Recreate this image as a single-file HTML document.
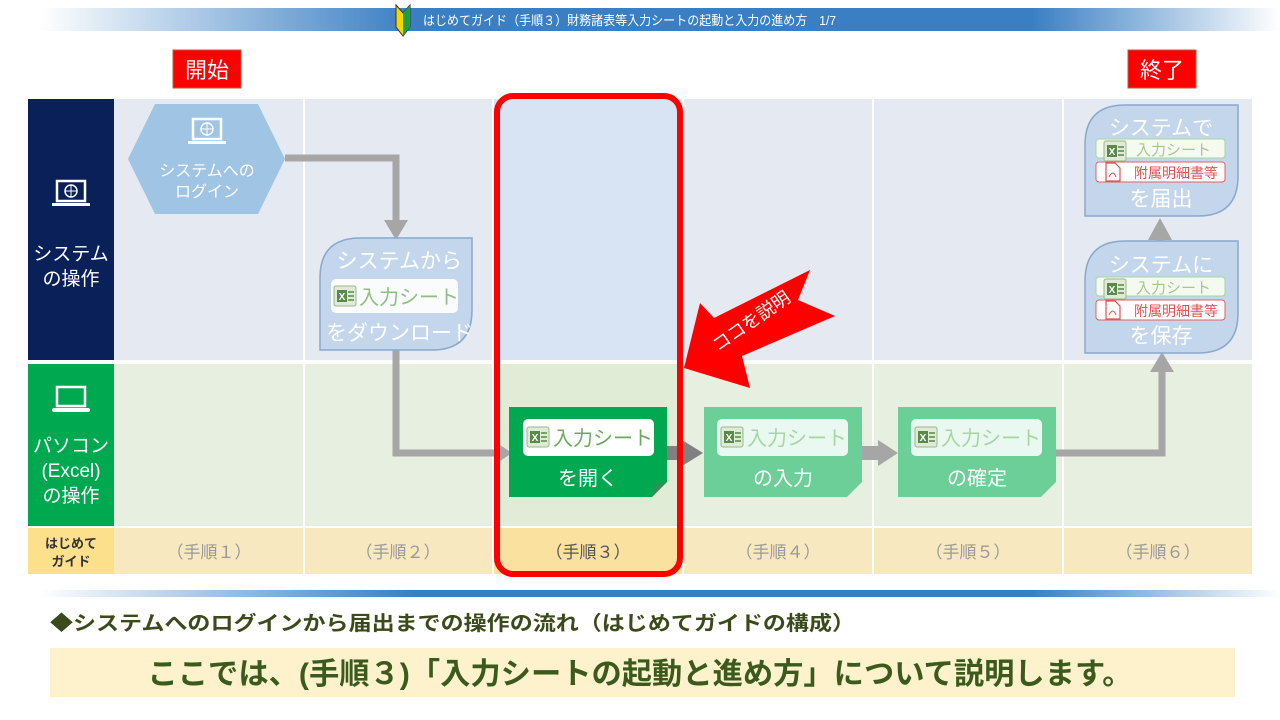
<!DOCTYPE html>
<html><head><meta charset="utf-8"><style>
html,body{margin:0;padding:0;background:#fff;}
svg{display:block;font-family:"Liberation Sans","Noto Sans CJK JP",sans-serif;}
</style></head><body>
<svg width="1280" height="720" viewBox="0 0 1280 720" xmlns="http://www.w3.org/2000/svg">
<defs>
<linearGradient id="bar" x1="0" x2="1" y1="0" y2="0">
<stop offset="0" stop-color="#fff"/><stop offset="0.3" stop-color="#3a7fc4"/><stop offset="0.8" stop-color="#3a7fc4"/><stop offset="1" stop-color="#fff"/>
</linearGradient>
<g id="xl"><rect x="0" y="0" width="22" height="20" rx="2" fill="#e0ead8" stroke="#9ab88a"/><rect x="3" y="4" width="10" height="12" fill="#5a8a4a"/><text x="8" y="14" font-size="10" font-weight="bold" fill="#fff" text-anchor="middle">X</text><rect x="14" y="5" width="6" height="2" fill="#7aa06a"/><rect x="14" y="9" width="6" height="2" fill="#7aa06a"/><rect x="14" y="13" width="6" height="2" fill="#7aa06a"/></g>
<g id="pdf"><path d="M0 0 h9 l5 5 v13 h-14z" fill="#fff" stroke="#e05050" stroke-width="1.2"/><path d="M3 14 q4 -8 7 0" fill="none" stroke="#e05050"/></g>
<g id="lap"><rect x="-14" y="-14" width="28" height="20" fill="none" stroke="#fff" stroke-width="2.5"/><rect x="-19" y="8" width="38" height="3" fill="#fff"/><circle cx="0" cy="-4" r="6" fill="none" stroke="#fff" stroke-width="1.5"/><path d="M-6 -4 h12 M0 -10 v12" stroke="#fff" stroke-width="1"/></g>
</defs>
<!-- title bar -->
<rect x="40" y="8" width="1240" height="23" fill="url(#bar)"/>
<path d="M396 5 l7 8 l7 -8 v22 l-7 9 l-7 -9z" fill="#f5d800" stroke="#333" stroke-width="1"/>
<path d="M403 13 l7 -8 v22 l-7 9z" fill="#1aa040"/>
<text x="423" y="25" font-size="13" fill="#fff" textLength="413" lengthAdjust="spacingAndGlyphs">はじめてガイド（手順３）財務諸表等入力シートの起動と入力の進め方　1/7</text>
<!-- start/end -->
<rect x="173" y="50" width="68" height="38" fill="#f00" stroke="#b0603a"/>
<text x="207" y="78" font-size="22" fill="#fff" text-anchor="middle">開始</text>
<rect x="1128" y="50" width="68" height="38" fill="#f00" stroke="#b0603a"/>
<text x="1162" y="78" font-size="22" fill="#fff" text-anchor="middle">終了</text>
<!-- lanes -->
<rect x="114" y="99" width="1138" height="261" fill="#e4e9f2"/>
<rect x="114" y="364" width="1138" height="162" fill="#e6efe0"/>
<rect x="114" y="528" width="1138" height="46" fill="#f8e8c0"/>
<rect x="494" y="99" width="188" height="261" fill="#d8e3f3"/>
<rect x="494" y="364" width="188" height="162" fill="#e0ecd6"/>
<rect x="494" y="528" width="188" height="46" fill="#fbe1a0"/>
<g stroke="#fff" stroke-width="2"><line x1="304" y1="99" x2="304" y2="574"/><line x1="493" y1="99" x2="493" y2="574"/><line x1="683" y1="99" x2="683" y2="574"/><line x1="873" y1="99" x2="873" y2="574"/><line x1="1063" y1="99" x2="1063" y2="574"/></g>
<rect x="28" y="99" width="86" height="261" fill="#0a2058"/>
<rect x="28" y="364" width="86" height="162" fill="#00a84f"/>
<rect x="28" y="528" width="86" height="46" fill="#fde08c"/>
<use href="#lap" x="71" y="195"/>
<text x="71" y="260" font-size="19" fill="#fff" text-anchor="middle">システム</text>
<text x="71" y="285" font-size="19" fill="#fff" text-anchor="middle">の操作</text>
<g transform="translate(71,400)"><rect x="-14" y="-13" width="28" height="19" fill="none" stroke="#fff" stroke-width="2.5"/><rect x="-19" y="8" width="38" height="4" rx="2" fill="#fff"/></g>
<text x="71" y="452" font-size="19" fill="#fff" text-anchor="middle">パソコン</text>
<text x="71" y="477" font-size="19" fill="#fff" text-anchor="middle">(Excel)</text>
<text x="71" y="502" font-size="19" fill="#fff" text-anchor="middle">の操作</text>
<text x="71" y="548" font-size="13" font-weight="bold" fill="#333" text-anchor="middle">はじめて</text>
<text x="71" y="566" font-size="13" font-weight="bold" fill="#333" text-anchor="middle">ガイド</text>
<g font-size="17" fill="#999" text-anchor="middle">
<text x="209" y="558">（手順１）</text><text x="398" y="558">（手順２）</text><text x="588" y="558" fill="#555">（手順３）</text><text x="778" y="558">（手順４）</text><text x="968" y="558">（手順５）</text><text x="1158" y="558">（手順６）</text>
</g>
<!-- connectors -->
<g stroke="#a6a6a6" stroke-width="7" fill="none">
<polyline points="285,158 396,158 396,222"/>
<polyline points="396,350 396,453 496,453"/>
<polyline points="1056,453 1162,453 1162,370"/>
<line x1="1160" y1="241" x2="1160" y2="230"/>
</g>
<g fill="#a6a6a6">
<polygon points="384,220 408,220 396,240"/>
<polygon points="494,441 494,465 512,453"/>
<polygon points="1150,372 1174,372 1162,352"/>
<polygon points="1148,240 1172,240 1160,218"/>
<polygon points="862,446 878,446 878,440 898,453 878,466 878,460 862,460"/>
</g>
<polygon points="667,446 682,446 682,440 703,453 682,466 682,460 667,460" fill="#808080"/>
<!-- hexagon -->
<polygon points="128,159 155,104 258,104 285,159 258,214 155,214" fill="#a0c4e4"/>
<use href="#lap" x="207" y="133"/>
<text x="207" y="176" font-size="16" fill="#fff" text-anchor="middle">システムへの</text>
<text x="207" y="197" font-size="16" fill="#fff" text-anchor="middle">ログイン</text>
<!-- download -->
<path d="M320 350 V278 Q320 238 360 238 H472 V310 Q472 350 432 350 Z" fill="#c3d6ec" stroke="#8aa8cc" stroke-width="1.5"/>
<text x="462" y="268" font-size="21" fill="#fff" text-anchor="end">システムから</text>
<rect x="331" y="279" width="127" height="34" rx="5" fill="#fff" opacity="0.9"/>
<use href="#xl" x="334" y="286"/>
<text x="359" y="304" font-size="20" fill="#8fbf80">入力シート</text>
<text x="326" y="340" font-size="21" fill="#fff">をダウンロード</text>
<!-- green boxes -->
<path d="M509 407 H667 V482 L652 497 H509Z" fill="#00a84f"/>
<path d="M652 497 L667 482 L655 485Z" fill="#3a8a5a"/>
<rect x="523" y="419" width="131" height="37" rx="5" fill="#fff"/>
<use href="#xl" x="527" y="427"/>
<text x="553" y="445" font-size="20" fill="#6aab5a">入力シート</text>
<text x="588" y="485" font-size="20" fill="#fff" text-anchor="middle">を開く</text>
<path d="M704 407 H862 V482 L847 497 H704Z" fill="#6ccf98"/>
<rect x="717" y="419" width="131" height="37" rx="5" fill="#fff" opacity="0.85"/>
<use href="#xl" x="721" y="427"/>
<text x="747" y="445" font-size="20" fill="#a6d6a0">入力シート</text>
<text x="783" y="485" font-size="20" fill="#fff" text-anchor="middle">の入力</text>
<path d="M898 407 H1056 V482 L1041 497 H898Z" fill="#6ccf98"/>
<rect x="911" y="419" width="131" height="37" rx="5" fill="#fff" opacity="0.85"/>
<use href="#xl" x="915" y="427"/>
<text x="941" y="445" font-size="20" fill="#a6d6a0">入力シート</text>
<text x="977" y="485" font-size="20" fill="#fff" text-anchor="middle">の確定</text>
<!-- save / submit -->
<g>
<path d="M1085 353 V281 Q1085 241 1125 241 H1238 V313 Q1238 353 1198 353 Z" fill="#c3d6ec" stroke="#8aa8cc" stroke-width="1.5"/>
<text x="1161" y="272" font-size="21" fill="#fff" text-anchor="middle">システムに</text>
<rect x="1096" y="277" width="129" height="19" rx="3" fill="#f4faf0" stroke="#a6d6a0"/>
<use href="#xl" x="1104" y="279" transform="scale(1)"/>
<text x="1136" y="293" font-size="15" fill="#a6c690">入力シート</text>
<rect x="1096" y="300" width="129" height="20" rx="3" fill="#fff" stroke="#e06060"/>
<use href="#pdf" x="1106" y="301"/>
<text x="1134" y="316" font-size="14" fill="#e05050">附属明細書等</text>
<text x="1161" y="343" font-size="21" fill="#fff" text-anchor="middle">を保存</text>
</g>
<g>
<path d="M1085 216 V145 Q1085 105 1125 105 H1238 V176 Q1238 216 1198 216 Z" fill="#c3d6ec" stroke="#8aa8cc" stroke-width="1.5"/>
<text x="1161" y="135" font-size="21" fill="#fff" text-anchor="middle">システムで</text>
<rect x="1096" y="139" width="129" height="19" rx="3" fill="#f4faf0" stroke="#a6d6a0"/>
<use href="#xl" x="1104" y="141"/>
<text x="1136" y="155" font-size="15" fill="#a6c690">入力シート</text>
<rect x="1096" y="162" width="129" height="20" rx="3" fill="#fff" stroke="#e06060"/>
<use href="#pdf" x="1106" y="163"/>
<text x="1134" y="178" font-size="14" fill="#e05050">附属明細書等</text>
<text x="1161" y="206" font-size="21" fill="#fff" text-anchor="middle">を届出</text>
</g>
<!-- highlight -->
<rect x="497" y="96" width="183" height="478" rx="16" fill="none" stroke="#f00" stroke-width="6"/>
<!-- callout arrow -->
<polygon points="684,368 700,303 714,318 810,270 798,300 835,316 742,356 750,388" fill="#f00"/>
<text transform="translate(718,352) rotate(-35)" font-size="18" fill="#fff">ココを説明</text>
<!-- bottom -->
<rect x="40" y="590" width="1240" height="7" fill="url(#bar)"/>
<text x="50" y="630" font-size="20" font-weight="bold" fill="#3a4a1a" textLength="805" lengthAdjust="spacingAndGlyphs">◆システムへのログインから届出までの操作の流れ（はじめてガイドの構成）</text>
<rect x="50" y="648" width="1185" height="49" fill="#fdf2cc"/>
<text x="640" y="684" font-size="30" font-weight="bold" fill="#3b5a1e" text-anchor="middle" textLength="985" lengthAdjust="spacingAndGlyphs">ここでは、(手順３)「入力シートの起動と進め方」について説明します。</text>
</svg>
</body></html>
